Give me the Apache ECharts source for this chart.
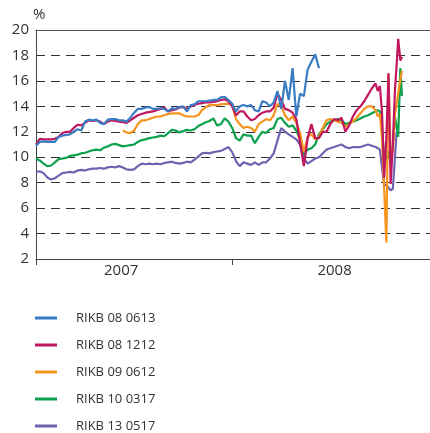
<!DOCTYPE html>
<html>
<head>
<meta charset="utf-8">
<script src="https://cdn.jsdelivr.net/npm/echarts@6/dist/echarts.min.js"></script>
<style>
html,body{margin:0;padding:0;background:#fff;}
#chart{width:430px;height:433px;}
</style>
</head>
<body>
<div id="chart"></div>
<script>
// x values: days since 1 Jan 2007 (weekly, then denser during the Oct 2008 crash)
var days = [
0,7,14,21,28,35,42,49,56,63,
70,77,84,91,98,105,112,119,126,133,
140,147,154,161,168,175,182,189,196,203,
210,217,224,231,238,245,252,259,266,273,
280,287,294,301,308,315,322,329,336,343,
350,357,364,371,378,385,392,399,406,413,
420,427,434,441,448,455,462,469,476,483,
490,497,504,511,518,525,532,539,546,553,
560,567,574,581,588,595,602,609,616,623,
630,634,638,642,646,650,654,658,662,666,669,672,676,679
];

var seriesNames = ['RIKB 08 0613','RIKB 08 1212','RIKB 09 0612','RIKB 10 0317','RIKB 13 0517'];
var yearLabels = ['2007','2008'];
var yearLabelDays = [158, 554];
var yearBoundaryDays = [0, 365];

var rikb080613 = [
10.9,11.2,11.25,11.2,11.2,11.2,11.6,11.7,11.75,11.8,
12.0,12.2,12.1,12.8,12.95,12.9,12.95,12.7,12.6,12.95,
13.0,13.0,12.9,12.9,12.8,13.1,13.5,13.8,13.8,13.9,
13.95,13.8,13.8,13.85,13.8,13.6,13.85,13.8,13.95,14.0,
13.6,14.1,14.15,14.4,14.4,14.4,14.45,14.5,14.5,14.7,
14.75,14.5,14.2,
13.6,14.0,14.1,14.0,14.1,13.7,13.6,14.4,14.3,14.0,
14.3,15.2,13.8,16.0,14.5,17.0,13.2,15.0,14.8,16.9,
17.5,18.1,17.0,
null,null,null,null,null,null,null,null,null,null,null,null,null,null,
null,null,null,null,null,null,null,null,null,null,null,null,null,null
];

var rikb081212 = [
11.0,11.45,11.4,11.4,11.4,11.45,11.6,11.9,12.0,12.0,
12.3,12.55,12.5,12.7,12.9,12.85,12.9,12.8,12.6,12.8,
12.9,12.85,12.8,12.75,12.7,12.9,13.1,13.3,13.4,13.5,
13.55,13.6,13.7,13.8,13.9,13.6,13.7,13.75,13.9,13.95,
13.8,14.0,14.1,14.2,14.25,14.3,14.3,14.35,14.4,14.5,
14.55,14.4,14.0,
13.3,13.6,13.6,13.2,12.9,13.0,13.3,13.5,13.6,13.6,
13.9,15.0,14.5,13.8,13.7,13.5,13.0,11.1,9.3,11.5,
12.6,11.5,11.5,12.0,12.0,12.6,13.0,12.9,13.1,12.0,
12.5,13.2,13.7,14.0,14.4,14.9,15.4,
15.8,15.2,15.6,13.5,8.4,11.5,16.6,7.9,11.0,15.3,17.2,19.3,17.6,17.9
];

var rikb090612 = [
null,null,null,null,null,null,null,null,null,null,
null,null,null,null,null,null,null,null,null,null,
null,null,null,
12.1,11.95,11.9,12.1,12.6,12.9,12.9,13.0,13.1,13.2,
13.2,13.3,13.4,13.45,13.45,13.45,13.3,13.2,13.2,13.2,
13.3,13.7,13.95,14.1,14.1,14.1,14.15,14.2,14.2,14.1,
13.0,12.6,12.3,12.4,12.3,12.0,12.6,12.8,13.0,12.9,
13.3,14.2,14.0,13.3,12.9,13.2,12.7,11.9,10.4,11.6,
11.8,11.4,11.6,12.3,12.9,13.0,12.9,12.8,12.7,12.4,
12.6,12.8,13.1,13.45,13.8,14.0,14.0,
13.7,13.2,13.4,11.5,7.5,3.3,16.6,10.0,10.5,13.4,14.2,15.0,16.1,16.8
];

var rikb100317 = [
9.9,9.75,9.5,9.3,9.35,9.6,9.85,9.9,9.95,10.1,
10.15,10.2,10.3,10.35,10.45,10.55,10.6,10.55,10.75,10.85,
11.0,11.05,10.95,10.85,10.9,10.95,11.0,11.2,11.35,11.4,
11.5,11.55,11.6,11.7,11.65,11.9,12.15,12.1,11.95,12.05,
12.15,12.1,12.2,12.45,12.6,12.75,12.85,13.05,12.5,12.6,
13.05,12.8,12.3,
11.5,11.3,11.8,11.7,11.7,11.1,11.6,12.0,11.9,12.2,
12.3,13.0,13.1,12.7,12.4,12.5,12.1,11.4,10.2,10.6,
10.7,11.0,11.8,12.2,12.6,12.8,12.9,13.0,12.9,12.6,
12.7,12.8,12.9,13.05,13.2,13.3,13.45,
13.6,13.7,13.6,12.3,10.0,9.8,10.5,9.5,11.0,13.2,12.4,11.6,17.0,14.8
];

var rikb130517 = [
8.85,8.9,8.75,8.4,8.25,8.35,8.55,8.75,8.8,8.85,
8.8,8.95,9.0,8.95,9.05,9.1,9.1,9.15,9.1,9.2,
9.25,9.2,9.3,9.2,9.05,9.0,9.05,9.3,9.5,9.45,
9.5,9.45,9.5,9.45,9.55,9.6,9.65,9.55,9.5,9.55,
9.65,9.6,9.8,10.05,10.3,10.35,10.3,10.4,10.45,10.5,
10.65,10.8,10.4,
9.7,9.3,9.6,9.5,9.4,9.6,9.4,9.6,9.6,9.9,
10.3,11.3,12.3,12.0,11.8,11.6,11.4,11.0,9.9,9.5,
9.7,9.9,10.0,10.3,10.6,10.7,10.8,10.9,11.0,10.8,
10.7,10.8,10.8,10.8,10.9,11.0,10.9,
10.8,10.7,10.6,9.2,7.8,7.8,7.6,7.4,7.5,10.0,12.0,null,null,null
];

var allValues = [rikb080613, rikb081212, rikb090612, rikb100317, rikb130517];
var colors = ['#3a7cc4','#c0175f','#f7941d','#0ca14d','#6f63b1'];
var zOrder = [6, 5, 4, 3, 2];

function pairs(vals){ return days.map(function(d,i){ return [d, vals[i]]; }); }

var FONT = '"Open Sans", "Noto Sans", sans-serif';
var chart = echarts.init(document.getElementById('chart'), null, {renderer:'canvas'});
chart.setOption({
  animation: false,
  backgroundColor: '#fff',
  grid: {left: 36, right: 0, top: 30, bottom: 174},
  legend: {
    orient: 'vertical', left: 35, top: 310, height: 140, padding: 0,
    itemWidth: 22, itemHeight: 3, itemGap: 11, icon: 'rect',
    data: seriesNames,
    textStyle: {fontFamily: FONT, fontSize: 13, color: '#333', lineHeight: 16, padding: [0,0,0,14]}
  },
  xAxis: [{
    type: 'value', min: 0, max: 731,
    axisLine: {show: true, lineStyle: {color: '#444', width: 1}},
    axisTick: {show: true, customValues: yearBoundaryDays, length: 6, lineStyle: {color: '#444'}},
    axisLabel: {customValues: yearLabelDays, margin: 4, fontFamily: FONT, fontSize: 15, color: '#333',
      formatter: function(v){ return v < 365 ? yearLabels[0] : yearLabels[1]; }},
    splitLine: {show: false}
  },{
    type: 'value', min: 0, max: 731, position: 'top',
    axisLine: {show: true, lineStyle: {color: '#555', width: 1}},
    axisTick: {show: false}, axisLabel: {show: false}, splitLine: {show: false}
  }],
  yAxis: {
    type: 'value', min: 2, max: 20, interval: 2,
    name: '%', nameLocation: 'end', nameGap: 8,
    nameTextStyle: {fontFamily: FONT, fontSize: 15, color: '#333', align: 'left', padding: [0,0,0,-3]},
    axisLine: {show: true, lineStyle: {color: '#444', width: 1}},
    axisTick: {show: false},
    axisLabel: {margin: 7, fontFamily: FONT, fontSize: 15, color: '#333'},
    splitLine: {show: true, lineStyle: {color: '#333', width: 1.2, type: [9, 6]}}
  },
  series: seriesNames.map(function(n, i){
    return {
      name: n, type: 'line', data: pairs(allValues[i]), showSymbol: false, symbol: 'none',
      z: zOrder[i], connectNulls: false,
      lineStyle: {color: colors[i], width: 2.2}, itemStyle: {color: colors[i]}
    };
  })
});
</script>
</body>
</html>
